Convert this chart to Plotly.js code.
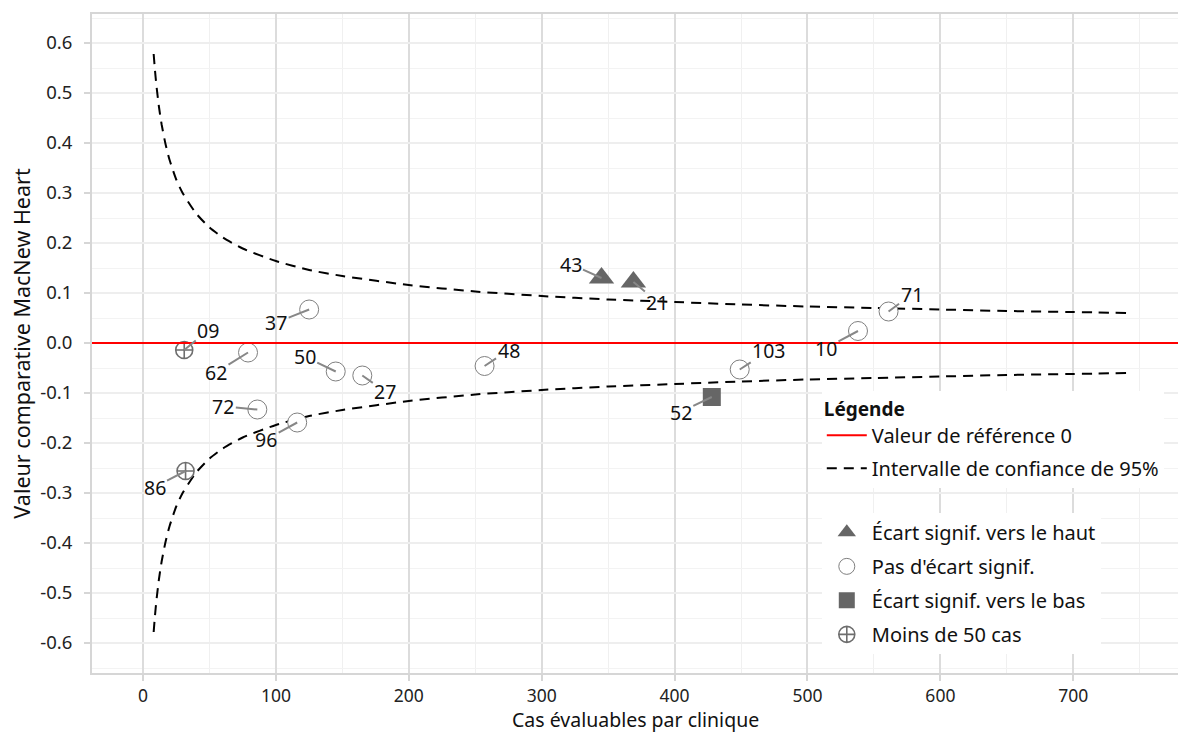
<!DOCTYPE html>
<html>
<head>
<meta charset="utf-8">
<script src="https://cdn.plot.ly/plotly-3.0.1.min.js"></script>
<style>html,body{margin:0;padding:0;background:#fff;}#chart{width:1178px;height:733px;}</style>
</head>
<body>
<div id="chart"></div>
<script>
// ---- data ----
const clinicIds    = ['09', '86', '62', '72', '96', '37', '50', '27', '48', '43', '21', '52', '103', '10', '71'];
const clinicCases  = [31, 32, 79, 86, 116, 125, 145, 165, 257, 345, 369, 428, 449, 538, 561];
const clinicValues = [-0.014, -0.256, -0.019, -0.133, -0.159, 0.067, -0.057, -0.065, -0.046, 0.130, 0.122, -0.108, -0.053, 0.024, 0.063];
const clinicStatus = ['moins50', 'moins50', 'ns', 'ns', 'ns', 'ns', 'ns', 'ns', 'ns', 'haut', 'haut', 'bas', 'ns', 'ns', 'ns'];

const ciCases = [8, 9, 10, 12, 14, 17, 20, 25, 30, 40, 50, 60, 75, 100, 125, 150, 200, 250, 300, 350, 400, 450, 500, 550, 600, 650, 700, 740];
const ciUpper = [0.578, 0.545, 0.517, 0.472, 0.437, 0.397, 0.366, 0.327, 0.299, 0.259, 0.231, 0.211, 0.189, 0.164, 0.146, 0.134, 0.116, 0.103, 0.094, 0.087, 0.082, 0.077, 0.073, 0.070, 0.067, 0.064, 0.062, 0.060];
const ciLower = [-0.578, -0.545, -0.517, -0.472, -0.437, -0.397, -0.366, -0.327, -0.299, -0.259, -0.231, -0.211, -0.189, -0.164, -0.146, -0.134, -0.116, -0.103, -0.094, -0.087, -0.082, -0.077, -0.073, -0.070, -0.067, -0.064, -0.062, -0.060];
const referenceValue = 0;

const xTickVals = [0, 100, 200, 300, 400, 500, 600, 700];
const yTickVals = [-0.6, -0.5, -0.4, -0.3, -0.2, -0.1, 0, 0.1, 0.2, 0.3, 0.4, 0.5, 0.6];
const yTickText = ['-0.6', '-0.5', '-0.4', '-0.3', '-0.2', '-0.1', '0.0', '0.1', '0.2', '0.3', '0.4', '0.5', '0.6'];

const xAxisTitle = 'Cas évaluables par clinique';
const yAxisTitle = 'Valeur comparative MacNew Heart';

const statusOrder  = ['haut', 'ns', 'bas', 'moins50'];
const statusLabels = {
  haut: 'Écart signif. vers le haut',
  ns: "Pas d'écart signif.",
  bas: 'Écart signif. vers le bas',
  moins50: 'Moins de 50 cas'
};

// ---- styles (not data) ----
const FONT = 'Noto Sans, Open Sans, DejaVu Sans, sans-serif';
const markerStyles = {
  haut:    {symbol: 'triangle-up', size: 22, color: '#666666', line: {width: 0}},
  ns:      {symbol: 'circle', size: 19, color: '#ffffff', line: {color: '#7f7f7f', width: 1}},
  bas:     {symbol: 'square', size: 18, color: '#666666', line: {width: 0}},
  moins50: {symbol: 'circle-cross-open', size: 17, color: '#6e6e6e', line: {color: '#6e6e6e', width: 1.6}}
};
// label offsets in pixels (text centre relative to the point)
const labelOffsets = {
  '09': [24, -20], '86': [-31, 16], '62': [-32, 20], '72': [-34, -3], '96': [-31, 17],
  '37': [-33, 13], '50': [-31, -15], '27': [23, 16], '48': [24, -16], '43': [-31, -14],
  '21': [24, 20], '52': [-31, 15], '103': [29, -19], '10': [-32, 17], '71': [23, -17]
};

const traces = [];
traces.push({
  x: [null], y: [null], type: 'scatter', mode: 'lines',
  name: 'Valeur de référence 0', legend: 'legend', legendgroup: 'ref',
  line: {color: '#ff0000', width: 2}, hoverinfo: 'skip'
});
traces.push({
  x: ciCases, y: ciUpper, type: 'scatter', mode: 'lines',
  name: 'Intervalle de confiance de 95%', legend: 'legend', legendgroup: 'ci',
  line: {color: '#000000', width: 2, dash: '10px,7px', shape: 'spline', smoothing: 0.6}, hoverinfo: 'skip'
});
traces.push({
  x: ciCases, y: ciLower, type: 'scatter', mode: 'lines',
  name: 'Intervalle de confiance de 95%', legend: 'legend', legendgroup: 'ci', showlegend: false,
  line: {color: '#000000', width: 2, dash: '10px,7px', shape: 'spline', smoothing: 0.6}, hoverinfo: 'skip'
});

statusOrder.forEach(function (st) {
  const xs = [], ys = [], ids = [];
  clinicStatus.forEach(function (s, i) {
    if (s === st) { xs.push(clinicCases[i]); ys.push(clinicValues[i]); ids.push(clinicIds[i]); }
  });
  traces.push({
    x: xs, y: ys, text: ids, type: 'scatter', mode: 'markers',
    name: statusLabels[st], legend: 'legend2', legendgroup: st,
    marker: markerStyles[st], hoverinfo: 'text+x+y'
  });
});

const annotations = clinicIds.map(function (id, i) {
  const off = labelOffsets[id];
  return {
    x: clinicCases[i], y: clinicValues[i], xref: 'x', yref: 'y',
    text: id, showarrow: true, arrowhead: 0, arrowwidth: 2, arrowcolor: '#878787',
    standoff: 0, startstandoff: 0, ax: off[0], ay: off[1],
    font: {family: FONT, size: 19.5, color: '#111111'}
  };
});
// x-axis title, placed below the tick labels
annotations.push({
  text: xAxisTitle, xref: 'paper', x: 0.5, yref: 'paper', y: 0,
  xanchor: 'center', yanchor: 'middle', yshift: -46, showarrow: false, borderpad: 0,
  font: {family: FONT, size: 19.5, color: '#111111'}
});

const layout = {
  width: 1178, height: 733,
  margin: {l: 92, r: 0, t: 14, b: 60},
  paper_bgcolor: '#ffffff', plot_bgcolor: '#ffffff',
  font: {family: FONT, size: 18, color: '#222222'},
  showlegend: true,
  xaxis: {
    range: [-38.4, 778.8], tickmode: 'array', tickvals: xTickVals,
    showgrid: true, gridcolor: '#dcdcdc', gridwidth: 2,
    minor: {dtick: 50, tick0: 0, showgrid: true, gridcolor: '#f0f0f0', gridwidth: 1},
    zeroline: false, showline: true, linecolor: '#d6d6d6', linewidth: 2, mirror: true,
    ticks: 'outside', ticklen: 6, tickwidth: 2, tickcolor: '#d6d6d6',
    tickfont: {family: FONT, size: 17.5, color: '#222222'}
  },
  yaxis: {
    range: [-0.66, 0.658], tickmode: 'array', tickvals: yTickVals, ticktext: yTickText,
    showgrid: true, gridcolor: '#eeeeee', gridwidth: 2,
    minor: {dtick: 0.05, tick0: 0, showgrid: true, gridcolor: '#f3f3f3', gridwidth: 1},
    zeroline: false, showline: true, linecolor: '#d6d6d6', linewidth: 2,
    ticks: 'outside', ticklen: 6, tickwidth: 2, tickcolor: '#d6d6d6', ticklabelstandoff: 8,
    tickfont: {family: FONT, size: 18.5, color: '#222222'},
    title: {text: yAxisTitle, font: {family: FONT, size: 21.5, color: '#111111'}, standoff: 4}
  },
  shapes: [{
    type: 'line', xref: 'paper', x0: 0, x1: 1, yref: 'y', y0: referenceValue, y1: referenceValue,
    line: {color: '#ff0000', width: 2}, layer: 'above'
  }],
  legend: {
    x: 0.672, xanchor: 'left', y: 0.428, yanchor: 'top',
    bgcolor: '#ffffff', borderwidth: 0,
    title: {text: '<b>Légende</b>', font: {family: FONT, size: 19, color: '#111111'}},
    font: {family: FONT, size: 20, color: '#111111'},
    traceorder: 'grouped', tracegroupgap: 4, itemwidth: 40
  },
  legend2: {
    x: 0.672, xanchor: 'left', y: 0.243, yanchor: 'top',
    bgcolor: '#ffffff', borderwidth: 0,
    font: {family: FONT, size: 20, color: '#111111'},
    traceorder: 'grouped', tracegroupgap: 5, itemwidth: 40
  },
  annotations: annotations
};

Plotly.newPlot('chart', traces, layout, {displayModeBar: false, staticPlot: true});
</script>
</body>
</html>
